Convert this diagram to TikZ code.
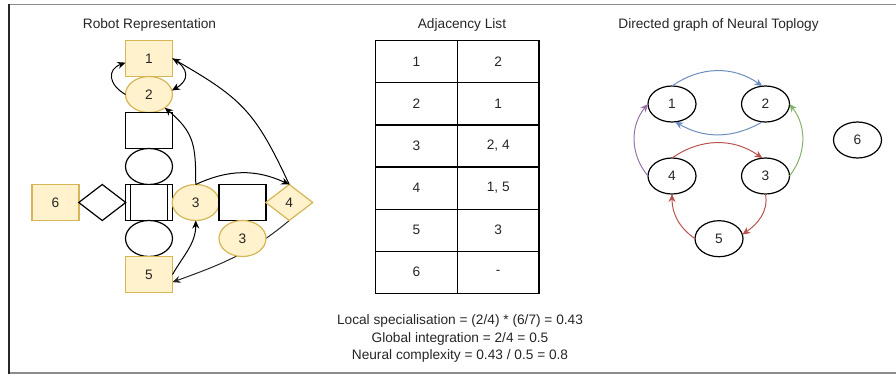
\documentclass[tikz,border=0pt]{standalone}
\usepackage{fontspec}
\setmainfont{Liberation Sans}
\usetikzlibrary{shapes.geometric,arrows.meta,backgrounds}
\definecolor{partfill}{HTML}{FFF2CC}
\definecolor{partline}{HTML}{D6B656}
\definecolor{edgeblue}{HTML}{6C8EBF}
\definecolor{edgepurple}{HTML}{9673A6}
\definecolor{edgegreen}{HTML}{82B366}
\definecolor{edgered}{HTML}{B85450}
\definecolor{framegray}{HTML}{8C8C8C}
\begin{document}
\begin{tikzpicture}[x=1pt,y=1pt,inner sep=0pt,outer sep=0pt,line width=1.2pt,
font=\fontsize{13.7}{17.4}\selectfont,text=black!85,
>={Stealth[length=8pt,width=7pt]},
link/.style={->,line width=1pt},
part/.style={draw,fill=white,minimum width=47pt,minimum height=36pt},
yellowpart/.style={part,fill=partfill,draw=partline},
limb/.style={part,ellipse},
joint/.style={yellowpart,ellipse},
procbox/.style={part,path picture={
  \draw ([xshift=5pt]path picture bounding box.north west) -- ([xshift=5pt]path picture bounding box.south west);
  \draw ([xshift=-5pt]path picture bounding box.north east) -- ([xshift=-5pt]path picture bounding box.south east);}},
cell/.style={draw,minimum width=81.7pt,minimum height=42.1pt},
neuron/.style={draw,ellipse,minimum width=48pt,minimum height=36pt}]

\useasboundingbox (0,0) rectangle (896,-375);
\draw[framegray,line width=1.5pt] (9,-4.7) -- (896,-4.7);
\draw[framegray,line width=1.5pt] (9,-373) -- (896,-373);
\draw[black!85,line width=1.3pt] (9,-4) -- (9,-373.7);

\draw (149.5,-28) node[anchor=base] (ttlrobot) {Robot Representation};
\draw (462,-28) node[anchor=base] (ttladj) {Adjacency List};
\draw (718.5,-28) node[anchor=base] (ttlgraph) {Directed graph of Neural Toplogy};

\draw (149,-58.5) node[yellowpart] (r1) {1};
\draw (149,-94.5) node[joint] (r2) {2};
\draw (149,-130.5) node[part] (body1) {};
\draw (149,-166.5) node[limb] (body2) {};
\draw (149,-202.5) node[procbox] (core) {};
\draw (149,-238.5) node[limb] (body3) {};
\draw (149,-274.5) node[yellowpart] (r5) {5};
\draw (55.5,-202.5) node[yellowpart] (r6) {6};
\draw (102.25,-202.5) node[part,diamond] (hinge) {};
\draw (195.75,-202.5) node[joint] (r3) {3};
\draw (242.5,-202.5) node[part] (arm) {};
\draw (289.25,-202.5) node[yellowpart,diamond] (r4) {4};
\draw (242.5,-238.5) node[joint] (r3b) {3};

\draw[link] (r2.180) to[out=150,in=200,looseness=1.6] (r1.190);
\draw[link] (r1.0) to[out=-30,in=30,looseness=1.6] (r2.10);
\draw[link] (r3.90) to[out=90,in=-40,looseness=1.2] (r2.-40);
\draw[link] (r3.90) to[bend left=25] (r4.90);
\draw[link] (r4.90) to[out=115,in=-30,looseness=1.2] (r1.0);
\begin{scope}[on background layer]
\draw[link,black!85] (r4.-90) to[out=-140,in=20] (r5.-18);
\end{scope}
\draw[link] (r5.0) to[out=60,in=-90] (r3.-90);

\foreach \a/\b [count=\i] in {1/2,2/1,3/{2, 4},4/{1, 5},5/3,6/-}{
  \draw (416.5,-19.65-42.1*\i) node[cell] (key\i) {\a};
  \draw (498.2,-19.65-42.1*\i) node[cell] (val\i) {\b};
}

\draw (672,-104) node[neuron] (n1) {1};
\draw (765.5,-104) node[neuron] (n2) {2};
\draw (765.5,-176) node[neuron] (n3) {3};
\draw (672,-176) node[neuron] (n4) {4};
\draw (719,-238.7) node[neuron] (n5) {5};
\draw (857.5,-140) node[neuron] (n6) {6};

\draw[link,edgeblue] (n1.90) to[bend left=35] (n2.100);
\draw[link,edgeblue] (n2.-100) to[bend left=30] (n1.-80);
\draw[link,edgepurple] (n4.180) to[bend left=40] (n1.180);
\draw[link,edgegreen] (n3.0) to[bend right=38] (n2.0);
\draw[link,edgered] (n4.90) to[bend left=35] (n3.100);
\draw[link,edgered] (n3.-90) to[out=-80,in=35] (n5.10);
\draw[link,edgered] (n5.180) to[out=145,in=-90] (n4.-90);

\draw (460,-324.5) node[anchor=base] (spec) {Local specialisation = (2/4) * (6/7) = 0.43};
\draw (460,-342) node[anchor=base] (integ) {Global integration = 2/4 = 0.5};
\draw (460,-359.3) node[anchor=base] (cplx) {Neural complexity = 0.43 / 0.5 = 0.8};

\end{tikzpicture}
\end{document}
